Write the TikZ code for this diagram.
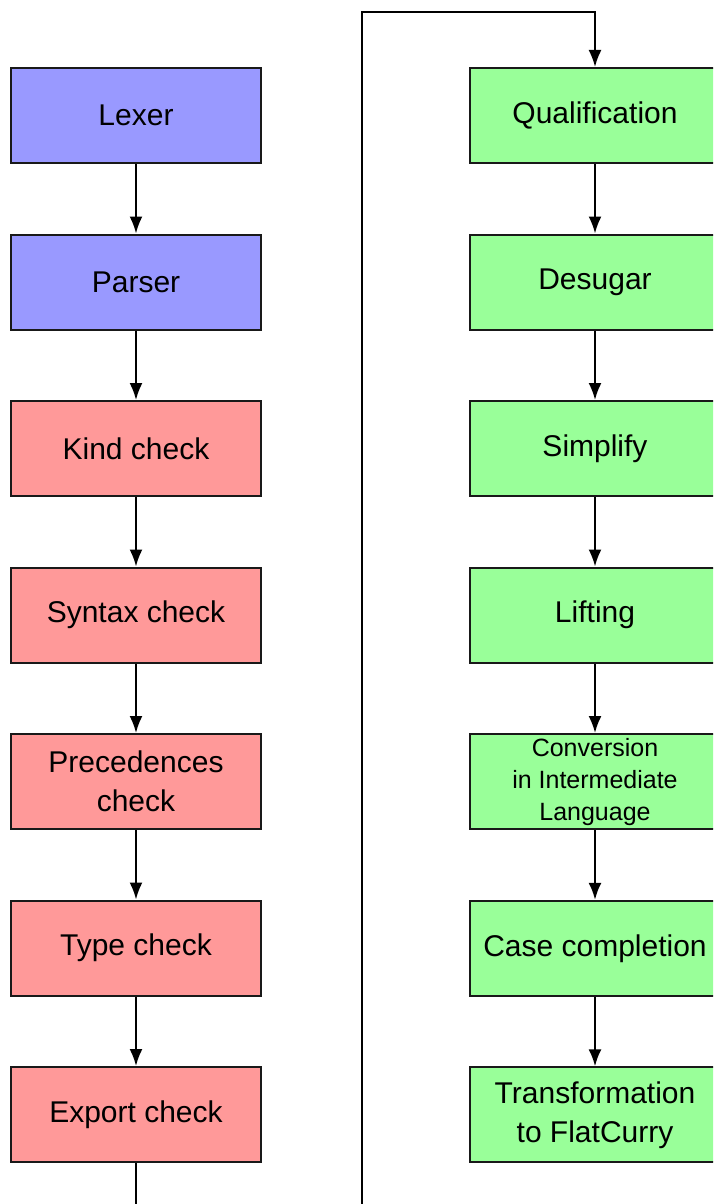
\documentclass[tikz,border=0pt]{standalone}
\usepackage{fontspec}
\setmainfont{Liberation Sans}
\usetikzlibrary{positioning,arrows.meta}
\definecolor{frontblue}{RGB}{153, 153, 255}
\definecolor{checkred}{RGB}{255, 153, 153}
\definecolor{backgreen}{RGB}{153, 255, 153}

\tikzset{
    phase/.style={draw=black!90, line width=1pt, minimum width=125pt, minimum height=47.5pt,
        inner sep=2pt, align=center, font=\fontsize{15pt}{19.5pt}\selectfont},
    lexphase/.style={phase, fill=frontblue},
    checkphase/.style={phase, fill=checkred},
    transphase/.style={phase, fill=backgreen},
    smalltext/.style={font=\fontsize{12.5pt}{16pt}\selectfont},
    flow/.style={line width=1pt, -{Latex[length=8.5pt, width=6.5pt]}}
}

\begin{document}
\begin{tikzpicture}[node distance=34.75pt]
    \useasboundingbox (0,0) rectangle (356.5pt,-602pt);
    \clip (0,0) rectangle (356.5pt,-602pt);

    % front end and checks
    \node[lexphase] (lexer) at (68pt,-57.75pt) {Lexer};
    \node[lexphase, below=of lexer] (parser) {Parser};
    \node[checkphase, below=of parser] (kind) {Kind check};
    \node[checkphase, below=of kind] (syntax) {Syntax check};
    \node[checkphase, below=of syntax] (prec) {Precedences\\check};
    \node[checkphase, below=of prec] (type) {Type check};
    \node[checkphase, below=of type] (export) {Export check};

    % transformations
    \node[transphase, right=103.5pt of lexer] (qual) {Qualification};
    \node[transphase, below=of qual] (desugar) {Desugar};
    \node[transphase, below=of desugar] (simplify) {Simplify};
    \node[transphase, below=of simplify] (lifting) {Lifting};
    \node[transphase, smalltext, below=of lifting] (conv) {Conversion\\in Intermediate\\Language};
    \node[transphase, below=of conv] (casecomp) {Case completion};
    \node[transphase, below=of casecomp] (flat) {Transformation\\to FlatCurry};

    \foreach \from/\to in {lexer/parser, parser/kind, kind/syntax, syntax/prec, prec/type, type/export,
        qual/desugar, desugar/simplify, simplify/lifting, lifting/conv, conv/casecomp, casecomp/flat}
        \draw[flow] (\from) -- (\to);

    % back from the checks to the transformations
    \coordinate (loopdown) at (181pt,-612pt);
    \coordinate (loopup) at (181pt,-6pt);
    \draw[flow] (export.south) |- (loopdown) -- (loopup) -| (qual.north);
\end{tikzpicture}
\end{document}
